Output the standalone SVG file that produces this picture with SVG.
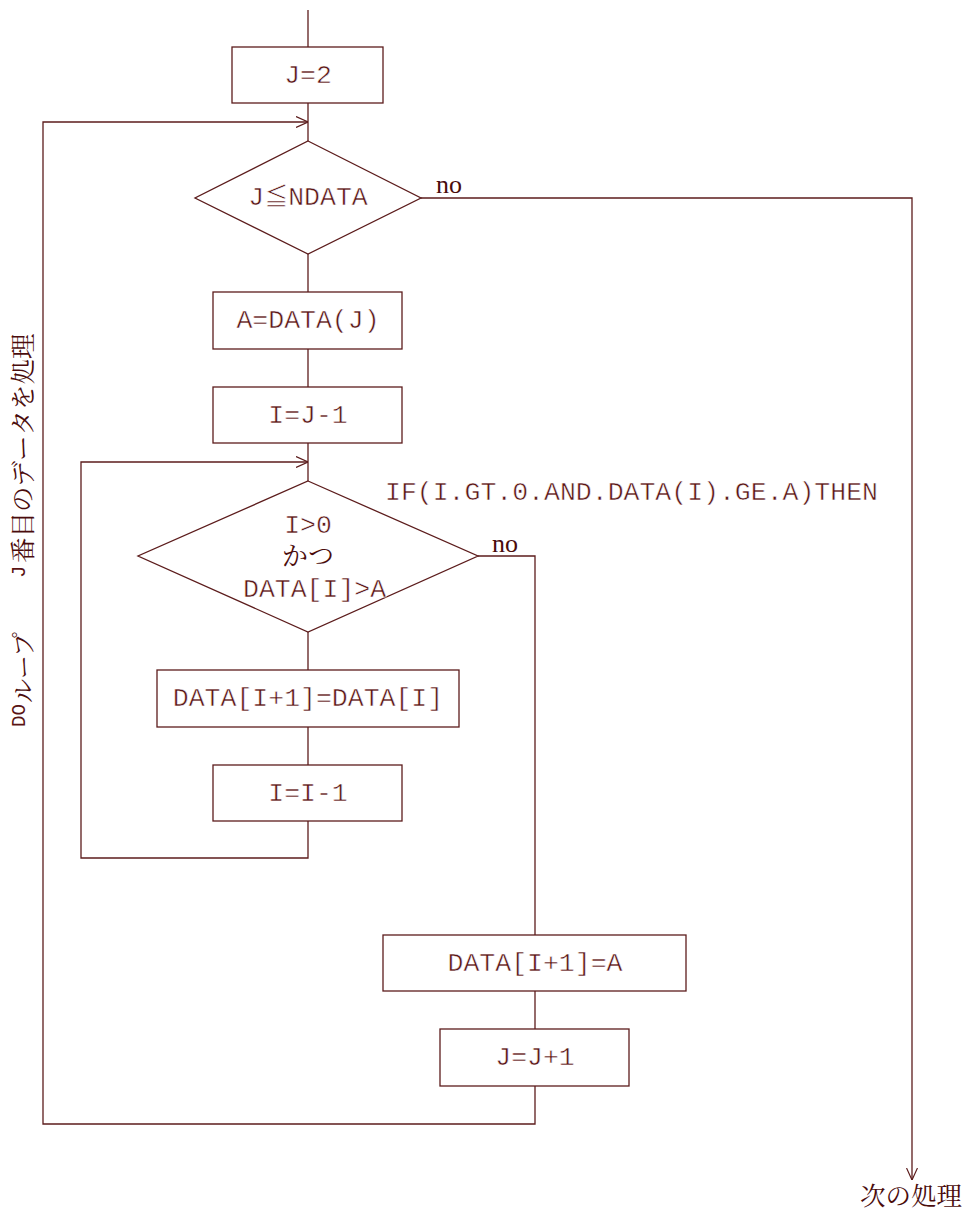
<svg xmlns="http://www.w3.org/2000/svg" width="969" height="1224" viewBox="0 0 969 1224">
<style>
.s{fill:#fff;stroke:#5c1c1c;stroke-width:1.3}
.c{fill:none;stroke:#5c1c1c;stroke-width:1.3}
.m{font-family:"Liberation Mono","Courier New",monospace;font-size:26.5px;fill:#5a1414;stroke:#fff;stroke-width:0.5}
.j{font-family:"Liberation Serif","Noto Serif CJK JP","Noto Sans CJK JP",serif;fill:#4a0c0c}
.v{font-family:"Liberation Mono","Courier New",monospace;font-size:21px;fill:#5a1414}
</style>
<defs>
<marker id="ah" viewBox="0 0 12 12" refX="12" refY="6" markerWidth="12" markerHeight="12" markerUnits="userSpaceOnUse" orient="auto">
<path d="M0,0.5 L12,6 L0,11.5" fill="none" stroke="#5c1c1c" stroke-width="1.2"/>
</marker>
</defs>
<g id="connectors">
<line class="c" x1="308" y1="10" x2="308" y2="47"/>
<line class="c" x1="308" y1="103" x2="308" y2="141"/>
<path class="c" d="M535,1086 V1124 H43 V122 H308" marker-end="url(#ah)"/>
<path class="c" d="M421,198 H912 V1180" marker-end="url(#ah)"/>
<line class="c" x1="308" y1="254" x2="308" y2="292"/>
<line class="c" x1="308" y1="349" x2="308" y2="387"/>
<line class="c" x1="308" y1="443" x2="308" y2="481"/>
<path class="c" d="M308,821 V858 H81 V462 H308" marker-end="url(#ah)"/>
<line class="c" x1="308" y1="632" x2="308" y2="670"/>
<line class="c" x1="308" y1="727" x2="308" y2="765"/>
<path class="c" d="M478,556 H535 V935"/>
<line class="c" x1="535" y1="991" x2="535" y2="1029"/>
</g>
<g id="n_j2"><rect class="s" x="232" y="47" width="151" height="56"/><text class="m" x="308" y="83" text-anchor="middle">J=2</text></g>
<g id="d_jn"><polygon class="s" points="308,141 421,198 308,254 195,198"/><text class="m" x="308" y="205" text-anchor="middle">J<tspan font-family="'Noto Sans CJK JP',sans-serif" font-size="24">≦</tspan>NDATA</text></g>
<text class="j" x="436" y="193" font-size="26">no</text>
<g id="n_a"><rect class="s" x="213" y="292" width="189" height="57"/><text class="m" x="308" y="328" text-anchor="middle">A=DATA(J)</text></g>
<g id="n_i"><rect class="s" x="213" y="387" width="189" height="56"/><text class="m" x="308" y="423" text-anchor="middle">I=J-1</text></g>
<g id="d_loop"><polygon class="s" points="308,481 478,556 308,632 138,556"/>
<text class="m" x="308" y="533" text-anchor="middle">I&gt;0</text>
<text class="j" x="308" y="565" font-size="26" text-anchor="middle">かつ</text>
<text class="m" x="243" y="597">DATA[I]&gt;A</text></g>
<text class="m" x="385" y="500">IF(I.GT.0.AND.DATA(I).GE.A)THEN</text>
<text class="j" x="492" y="552" font-size="26">no</text>
<g id="n_shift"><rect class="s" x="157" y="670" width="302" height="57"/><text class="m" x="308" y="706" text-anchor="middle">DATA[I+1]=DATA[I]</text></g>
<g id="n_dec"><rect class="s" x="213" y="765" width="189" height="56"/><text class="m" x="308" y="801" text-anchor="middle">I=I-1</text></g>
<g id="n_ins"><rect class="s" x="383" y="935" width="303" height="56"/><text class="m" x="535" y="971" text-anchor="middle">DATA[I+1]=A</text></g>
<g id="n_jinc"><rect class="s" x="440" y="1029" width="189" height="57"/><text class="m" x="535" y="1065" text-anchor="middle">J=J+1</text></g>
<g id="label_do" transform="translate(2,727) rotate(-90)">
<text class="v" x="0" y="23" textLength="23" lengthAdjust="spacingAndGlyphs">DO</text>
<text class="j" x="24" y="30" font-size="24">ループ</text>
<text class="v" x="149" y="23">J</text>
<text class="j" x="164" y="30" font-size="25.5">番目のデータを処理</text>
</g>
<text class="j" x="860" y="1205" font-size="25.5">次の処理</text>
</svg>
